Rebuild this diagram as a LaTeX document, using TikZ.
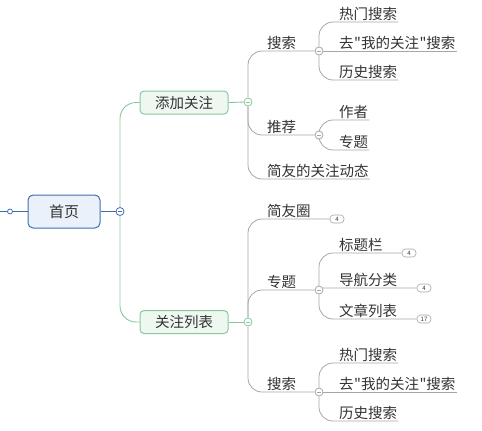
\documentclass[tikz,border=0pt]{standalone}
\usepackage{fontspec}
\setmainfont{Noto Sans CJK SC}
\newfontfamily\qf{Noto Sans CJK SC}
\newcommand{\sq}{\hspace{0.5pt}{\qf"}}
\usetikzlibrary{backgrounds}
\definecolor{rootb}{HTML}{3D6FB0}
\definecolor{rootf}{HTML}{EAF1FA}
\definecolor{grnb}{HTML}{88C99C}
\definecolor{grnf}{HTML}{EEF7F0}
\definecolor{lin}{HTML}{A6A6A6}
\definecolor{txt}{HTML}{333333}
\tikzset{
  lbl/.style={font=\fontsize{14.5}{15}\selectfont, text=txt, inner sep=1pt, anchor=south west},
  collapse/.style={circle, draw=#1, fill=white, minimum size=8pt, inner sep=0pt, line width=0.8pt,
    path picture={\draw[#1, line width=0.8pt] ([xshift=-2.2pt]path picture bounding box.center) -- ([xshift=2.2pt]path picture bounding box.center);}},
  badge/.style={draw=lin, rounded corners=3.5pt, fill=white, minimum width=14pt, minimum height=8pt, inner sep=0pt, line width=0.6pt, font=\fontsize{6}{6}\selectfont, text=txt},
  conn/.style={draw=lin, line width=0.8pt, rounded corners=14pt},
  gconn/.style={draw=grnb, line width=0.9pt, rounded corners=16pt},
  rootbox/.style={draw=rootb, fill=rootf, line width=1pt, rounded corners=5pt, minimum width=72pt, minimum height=33pt, inner sep=0pt, font=\fontsize{15}{16}\selectfont, text=txt},
  subbox/.style={draw=grnb, fill=grnf, line width=1pt, rounded corners=4pt, minimum width=88pt, minimum height=23pt, inner sep=0pt, font=\fontsize{14.5}{15}\selectfont, text=txt},
  dot/.style={circle, draw=rootb, fill=white, minimum size=5pt, inner sep=0pt, line width=0.8pt}
}
\begin{document}
\begin{tikzpicture}[x=1pt, y=-1pt]
\useasboundingbox (0,0) rectangle (482,431);
% root
\node[rootbox] (root) at (64,211.5) {首页};
\coordinate (lft) at (0,211.5);
\node[dot] (ldot) at (10,211.5) {};
\node[collapse=rootb] (rc) at (120,211.5) {};
% level 1
\node[subbox] (add) at (184,102.5) {添加关注};
\node[subbox] (list) at (184,322) {关注列表};
\node[collapse=grnb] (ca) at (248,102) {};
\node[collapse=grnb] (cl) at (248,322) {};
% top subtree
\node[lbl] (s1) at (266,51) {搜索};
\node[collapse=lin] (s1c) at (319,51) {};
\node[lbl] (s1a) at (338,22) {热门搜索};
\node[lbl] (s1b) at (338,51) {去\sq 我的关注\sq 搜索};
\node[lbl] (s1d) at (338,80) {历史搜索};
\node[lbl] (t1) at (266,135) {推荐};
\node[collapse=lin] (t1c) at (319,135) {};
\node[lbl] (t1a) at (338,120) {作者};
\node[lbl] (t1b) at (338,150) {专题};
\node[lbl] (u1) at (266,179) {简友的关注动态};
% bottom subtree
\node[lbl] (q1) at (266,219) {简友圈};
\node[badge] (q1n) at (337,219) {4};
\node[lbl] (z1) at (266,290) {专题};
\node[collapse=lin] (z1c) at (319,290) {};
\node[lbl] (z1a) at (338,253) {标题栏};
\node[badge] (z1an) at (409,253) {4};
\node[lbl] (z1b) at (338,288) {导航分类};
\node[badge] (z1bn) at (424,288) {4};
\node[lbl] (z1d) at (338,319) {文章列表};
\node[badge] (z1dn) at (424,319) {17};
\node[lbl] (s2) at (266,392) {搜索};
\node[collapse=lin] (s2c) at (319,392) {};
\node[lbl] (s2a) at (338,363) {热门搜索};
\node[lbl] (s2b) at (338,392) {去\sq 我的关注\sq 搜索};
\node[lbl] (s2d) at (338,421) {历史搜索};
\begin{pgfonlayer}{background}
\draw[rootb, line width=0.9pt] (lft) -- (root.west);
\draw[rootb, line width=0.9pt] (root.east) -- (rc);
\draw[gconn] (rc) |- (add.west);
\draw[gconn] (rc) |- (list.west);
\draw[grnb, line width=0.9pt] (add.east) -- (ca);
\draw[grnb, line width=0.9pt] (list.east) -- (cl);
\draw[conn] (ca) |- (s1c);
\draw[conn] (s1c) |- (s1a.south east);
\draw[conn] (s1c) -- (s1b.south east);
\draw[conn] (s1c) |- (s1d.south east);
\draw[conn] (ca) |- (t1c);
\draw[conn] (t1c) |- (t1a.south east);
\draw[conn] (t1c) |- (t1b.south east);
\draw[conn] (ca) |- (u1.south east);
\draw[conn] (cl) |- (q1n.west);
\draw[conn] (cl) |- (z1c);
\draw[conn] (z1c) |- (z1an.west);
\draw[conn, rounded corners=1pt] (z1c) |- (z1bn.west);
\draw[conn] (z1c) |- (z1dn.west);
\draw[conn] (cl) |- (s2c);
\draw[conn] (s2c) |- (s2a.south east);
\draw[conn] (s2c) -- (s2b.south east);
\draw[conn] (s2c) |- (s2d.south east);
\end{pgfonlayer}
\end{tikzpicture}
\end{document}
